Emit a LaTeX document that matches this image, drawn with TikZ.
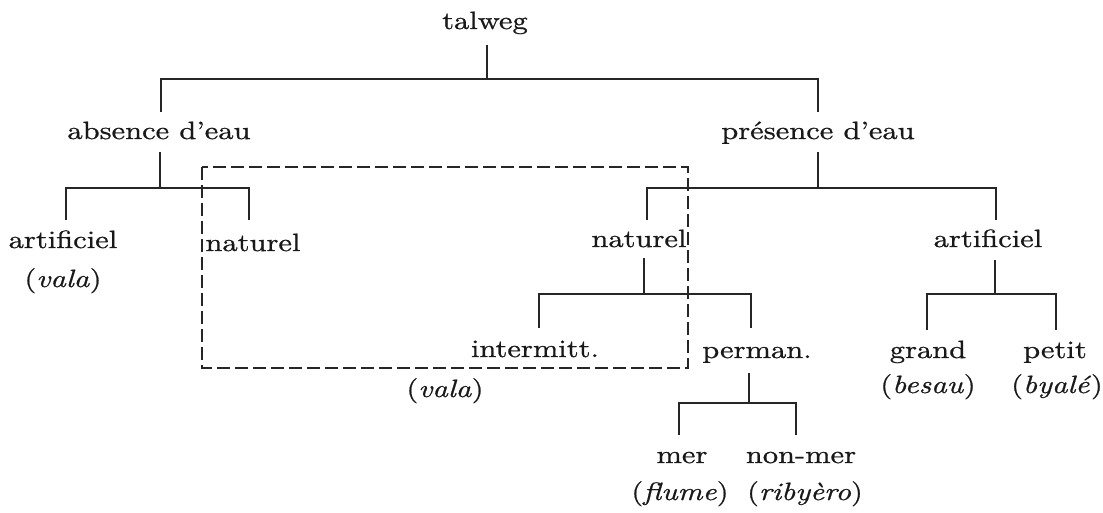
\documentclass[tikz,border=0pt]{standalone}
\usepackage{fontspec}
\setmainfont{lmroman10-regular.otf}[ItalicFont=lmroman10-italic.otf, FakeStretch=1.22, FakeBold=0.8]
\begin{document}
\begin{tikzpicture}[x=1pt,y=1pt,
  lbl/.style={anchor=base,inner sep=0pt,text=black!90,font=\fontsize{25}{29}\selectfont},
  conn/.style={draw=black!85,line width=1.3pt},
  region/.style={draw=black!85,line width=1.3pt,dash pattern=on 13pt off 5pt}]
\useasboundingbox[fill=white] (0,0) rectangle (1103,-513);
% nodes
\node[lbl] (talweg) at (485,-29) {talweg};
\node[lbl] (absence) at (159,-139) {absence d’eau};
\node[lbl] (presence) at (818,-139) {présence d’eau};
\node[lbl] (artL) at (63,-248) {artificiel};
\node[lbl] (valaL) at (63,-287) {(\textit{vala})};
\node[lbl] (natL) at (253,-251) {naturel};
\node[lbl] (natR) at (639,-247) {naturel};
\node[lbl] (artR) at (988,-247) {artificiel};
\node[lbl] (interm) at (535,-357) {intermitt.};
\node[lbl] (valaB) at (445,-397) {(\textit{vala})};
\node[lbl] (perman) at (757,-358) {perman.};
\node[lbl] (grand) at (928,-358) {grand};
\node[lbl] (besau) at (928,-393) {(\textit{besau})};
\node[lbl] (petit) at (1055,-358) {petit};
\node[lbl] (byale) at (1057,-393) {(\textit{byalé})};
\node[lbl] (mer) at (682,-463) {mer};
\node[lbl] (nonmer) at (801,-463) {non-mer};
\node[lbl] (flume) at (680,-500) {(\textit{flume})};
\node[lbl] (ribyero) at (805,-500) {(\textit{ribyèro})};
% dashed region
\draw[region] (202,-167) rectangle (688,-368);
% connectors
\draw[conn] ([xshift=2pt,yshift=-16pt]talweg.base) -- ++(0,-34) coordinate (jt);
\draw[conn] ([xshift=2pt,yshift=27pt]absence.base) |- (jt) -| ([yshift=27pt]presence.base);
\draw[conn] ([xshift=1pt,yshift=-13pt]absence.base) -- ++(0,-36) coordinate (ja);
\draw[conn] ([xshift=3pt,yshift=28pt]artL.base) |- (ja) -| ([xshift=-4pt,yshift=31pt]natL.base);
\draw[conn] ([yshift=-13pt]presence.base) -- ++(0,-36) coordinate (jp);
\draw[conn] ([xshift=8pt,yshift=27pt]natR.base) |- (jp) -| ([xshift=8pt,yshift=27pt]artR.base);
\draw[conn] ([xshift=5pt,yshift=-11pt]natR.base) -- ++(0,-36) coordinate (jn);
\draw[conn] ([xshift=4pt,yshift=29pt]interm.base) |- (jn) -| ([xshift=-6pt,yshift=30pt]perman.base);
\draw[conn] ([xshift=7pt,yshift=-13pt]artR.base) -- ++(0,-34) coordinate (jr);
\draw[conn] ([xshift=-1pt,yshift=28pt]grand.base) |- (jr) -| ([xshift=1pt,yshift=28pt]petit.base);
\draw[conn] ([xshift=-8pt,yshift=-15pt]perman.base) -- ++(0,-30) coordinate (jm);
\draw[conn] ([xshift=-3pt,yshift=28pt]mer.base) |- (jm) -| ([xshift=-5pt,yshift=28pt]nonmer.base);
\end{tikzpicture}
\end{document}
